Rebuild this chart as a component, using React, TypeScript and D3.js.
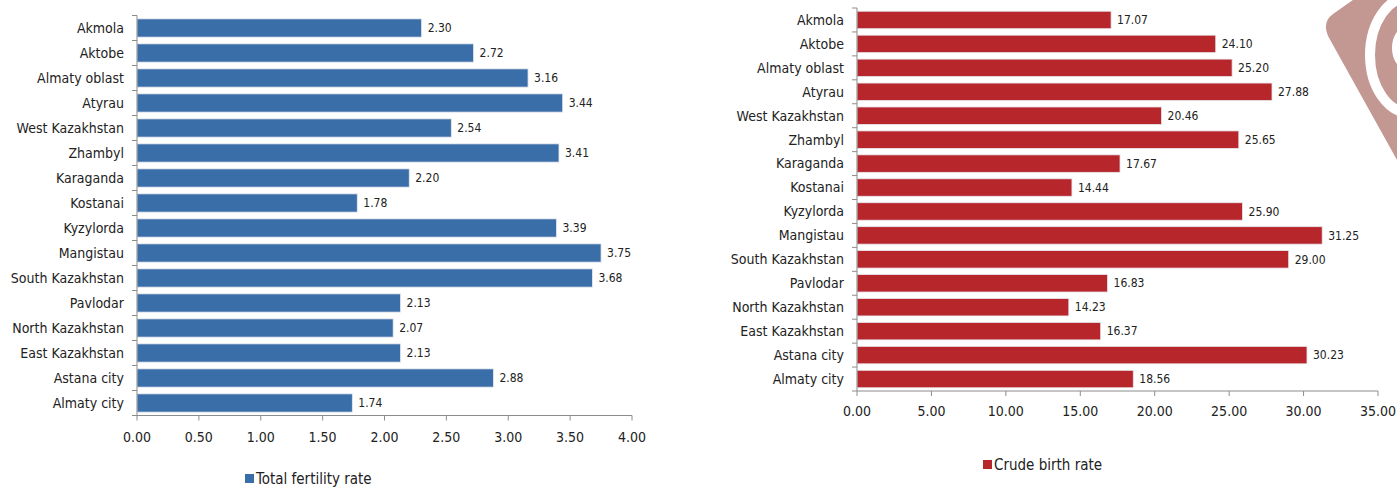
import React from 'react';
import * as d3 from 'd3';

const regions = [
  'Akmola', 'Aktobe', 'Almaty oblast', 'Atyrau', 'West Kazakhstan', 'Zhambyl', 'Karaganda', 'Kostanai',
  'Kyzylorda', 'Mangistau', 'South Kazakhstan', 'Pavlodar', 'North Kazakhstan', 'East Kazakhstan',
  'Astana city', 'Almaty city',
];
const fertility = [2.30, 2.72, 3.16, 3.44, 2.54, 3.41, 2.20, 1.78, 3.39, 3.75, 3.68, 2.13, 2.07, 2.13, 2.88, 1.74];
const birthRate = [17.07, 24.10, 25.20, 27.88, 20.46, 25.65, 17.67, 14.44, 25.90, 31.25, 29.00, 16.83, 14.23, 16.37, 30.23, 18.56];
const fertilityTicks = [0, 0.5, 1, 1.5, 2, 2.5, 3, 3.5, 4];
const birthTicks = [0, 5, 10, 15, 20, 25, 30, 35];

const FONT = '"Liberation Sans Narrow", "DejaVu Sans Condensed", sans-serif';

interface PanelProps {
  values: number[];
  ticks: number[];
  x0: number;
  x1: number;
  top: number;
  bottom: number;
  tickY: number;
  color: string;
  legend: string;
  legendX: number;
  legendY: number;
}

const Panel: React.FC<PanelProps> = ({ values, ticks, x0, x1, top, bottom, tickY, color, legend, legendX, legendY }) => {
  const x = d3.scaleLinear().domain([0, ticks[ticks.length - 1]]).range([x0, x1]);
  const y = d3.scaleBand<string>().domain(regions).range([top, bottom]).paddingInner(0.27).paddingOuter(0.135);
  const step = y.step();
  const axisColor = '#8c8c8c';
  return (
    <g fontFamily={FONT}>
      {regions.map((r, i) => (
        <g key={r}>
          <rect
            x={x(0)}
            y={y(r)!}
            width={x(values[i]) - x(0)}
            height={y.bandwidth()}
            fill={color}
            stroke="#e8e8f0"
            strokeWidth={0.8}
          />
          <text x={x(values[i]) + 6} y={y(r)! + y.bandwidth() / 2} dy="0.35em" fontSize={12} fill="#222">
            {values[i].toFixed(2)}
          </text>
          <text x={x0 - 13} y={y(r)! + y.bandwidth() / 2} dy="0.35em" fontSize={14} fill="#222" textAnchor="end">
            {r}
          </text>
        </g>
      ))}
      <line x1={x0} x2={x0} y1={top} y2={bottom} stroke={axisColor} />
      {d3.range(regions.length + 1).map((k) => (
        <line key={k} x1={x0 - 5} x2={x0} y1={top + k * step} y2={top + k * step} stroke={axisColor} />
      ))}
      <line x1={x0} x2={x1} y1={bottom} y2={bottom} stroke={axisColor} />
      {ticks.map((t) => (
        <g key={t}>
          <line x1={x(t)} x2={x(t)} y1={bottom} y2={bottom + 5} stroke={axisColor} />
          <text x={x(t)} y={tickY} dy="0.35em" fontSize={14} fill="#222" textAnchor="middle">
            {t.toFixed(2)}
          </text>
        </g>
      ))}
      <rect x={legendX} y={legendY - 5} width={9} height={9} fill={color} />
      <text x={legendX + 11} y={legendY} dy="0.35em" fontSize={15} fill="#222">
        {legend}
      </text>
    </g>
  );
};

export default function App() {
  return (
    <div style={{ position: 'absolute', left: 0, top: 0 }}>
      <svg width={1397} height={487} style={{ display: 'block', background: '#fff' }}>
        <defs>
          <clipPath id="logoClip">
            <path d="M1397,-5 L1360,-5 L1333,14 Q1322,22 1328,36 L1397,160 Z" />
          </clipPath>
        </defs>
        <g clipPath="url(#logoClip)">
          <rect x={1320} y={-5} width={80} height={170} fill="#c39893" />
          <ellipse cx={1410} cy={55} rx={40} ry={58} fill="none" stroke="#fff" strokeWidth={10} />
          <ellipse cx={1408} cy={48} rx={12} ry={18} fill="none" stroke="#fff" strokeWidth={8} />
        </g>
        <Panel
          values={fertility}
          ticks={fertilityTicks}
          x0={137}
          x1={632}
          top={15.5}
          bottom={415.5}
          tickY={437}
          color="#3a6ea8"
          legend="Total fertility rate"
          legendX={245}
          legendY={479}
        />
        <Panel
          values={birthRate}
          ticks={birthTicks}
          x0={857}
          x1={1378}
          top={8}
          bottom={391}
          tickY={411}
          color="#b7262b"
          legend="Crude birth rate"
          legendX={983}
          legendY={465}
        />
      </svg>
    </div>
  );
}
